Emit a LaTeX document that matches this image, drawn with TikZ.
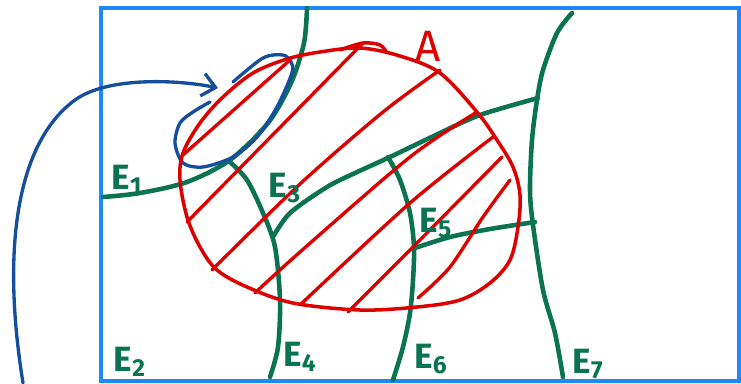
\documentclass[tikz,border=0pt]{standalone}
\usepackage{fontspec}
\setsansfont{Fira Sans}
\usepackage{xcolor}
\usepackage{tikz}
\usetikzlibrary{arrows.meta}
\definecolor{frameBlue}{RGB}{30,136,255}
\definecolor{regionGreen}{RGB}{10,115,82}
\definecolor{setRed}{RGB}{220,0,0}
\definecolor{loopBlue}{RGB}{22,78,158}
\tikzset{
  frameBox/.style={draw=frameBlue, line width=2pt},
  regionLine/.style={draw=regionGreen, line width=2.6pt, line cap=round},
  setOutline/.style={draw=setRed, line width=2pt, line cap=round},
  hatchLine/.style={draw=setRed, line width=1.9pt, line cap=round},
  loopLine/.style={draw=loopBlue, line width=1.9pt, line cap=round},
  curvedArrow/.style={-{Straight Barb[length=7.5pt,width=13pt]}, draw=loopBlue,
    line width=1.9pt, line cap=round},
  regionLabel/.style={text=regionGreen, inner sep=0pt,
    font=\sffamily\bfseries\fontsize{20}{20}\selectfont},
  setLabel/.style={text=setRed, inner sep=0pt,
    font=\sffamily\fontsize{25}{25}\selectfont}
}

\begin{document}
\begin{tikzpicture}[x=0.02cm, y=-0.02cm]
  \useasboundingbox (0,0) rectangle (741,383);
  \draw[frameBox] (101,8) rectangle (739,381);

  % region borders
  \draw[regionLine] plot[smooth] coordinates {(307,8) (304,43) (291,83) (268,123)
    (230,160) (187,182) (140,193) (103,197)};
  \draw[regionLine] plot[smooth] coordinates {(230,162) (247,180) (263,213)
    (275,247) (280,300) (278,347) (270,377)};
  \draw[regionLine] plot[smooth] coordinates {(273,237) (290,213) (327,187)
    (355,173) (390,157) (440,133) (480,115) (538,98)};
  \draw[regionLine] plot[smooth] coordinates {(388,157) (400,180) (410,213)
    (414,247) (413,280) (410,313) (403,347) (393,380)};
  \draw[regionLine] plot[smooth] coordinates {(415,248) (450,237) (490,229) (535,222)};
  \draw[regionLine] plot[smooth] coordinates {(572,13) (557,33) (543,70) (537,100)
    (532,140) (530,190) (533,225) (543,290) (555,333) (563,377)};

  % loop and arrow
  \draw[loopLine] plot[smooth] coordinates {(233,82) (263,58) (283,55) (291,62)
    (292,73) (277,107) (257,137) (233,157) (203,167) (183,163) (175,143)
    (180,123) (193,112) (210,102)};
  \coordinate (arrowStart) at (23,383);
  \coordinate (arrowTip) at (218,88);
  \draw[curvedArrow] (arrowStart) .. controls (0,240) and (20,140) .. (75,100)
    .. controls (108,76) and (180,80) .. (arrowTip);

  % set A
  \draw[setOutline] plot[smooth cycle, tension=0.55] coordinates {(287,59) (320,52)
    (360,48) (400,56) (440,73) (477,112) (497,140) (513,167) (520,195) (518,227)
    (510,260) (490,283) (460,300) (417,307) (360,310) (293,303) (247,287)
    (217,270) (200,247) (187,217) (180,180) (183,153) (200,123) (223,97) (253,73)};
  \draw[setOutline] plot[smooth] coordinates {(340,50) (363,43) (380,45) (387,53)};
  \draw[hatchLine] (183,155) -- (290,60);
  \draw[hatchLine] (187,222) -- (363,43);
  \draw[hatchLine] plot[smooth] coordinates {(212,270) (300,184) (383,112) (440,70)};
  \draw[hatchLine] plot[smooth] coordinates {(255,293) (300,252) (410,157) (477,112)};
  \draw[hatchLine] plot[smooth] coordinates {(300,305) (410,203) (493,137)};
  \draw[hatchLine] plot[smooth] coordinates {(348,312) (410,250) (502,157)};
  \draw[hatchLine] plot[smooth] coordinates {(418,298) (450,267) (483,217) (510,180)};

  \node[setLabel] (setA) at (428,46) {A};
  \node[regionLabel] (e1) at (127,180) {E\textsubscript{1}};
  \node[regionLabel] (e2) at (130,362) {E\textsubscript{2}};
  \node[regionLabel] (e3) at (285,188) {E\textsubscript{3}};
  \node[regionLabel] (e4) at (300,357) {E\textsubscript{4}};
  \node[regionLabel] (e5) at (436,223) {E\textsubscript{5}};
  \node[regionLabel] (e6) at (431,359) {E\textsubscript{6}};
  \node[regionLabel] (e7) at (588,364) {E\textsubscript{7}};
\end{tikzpicture}
\end{document}
